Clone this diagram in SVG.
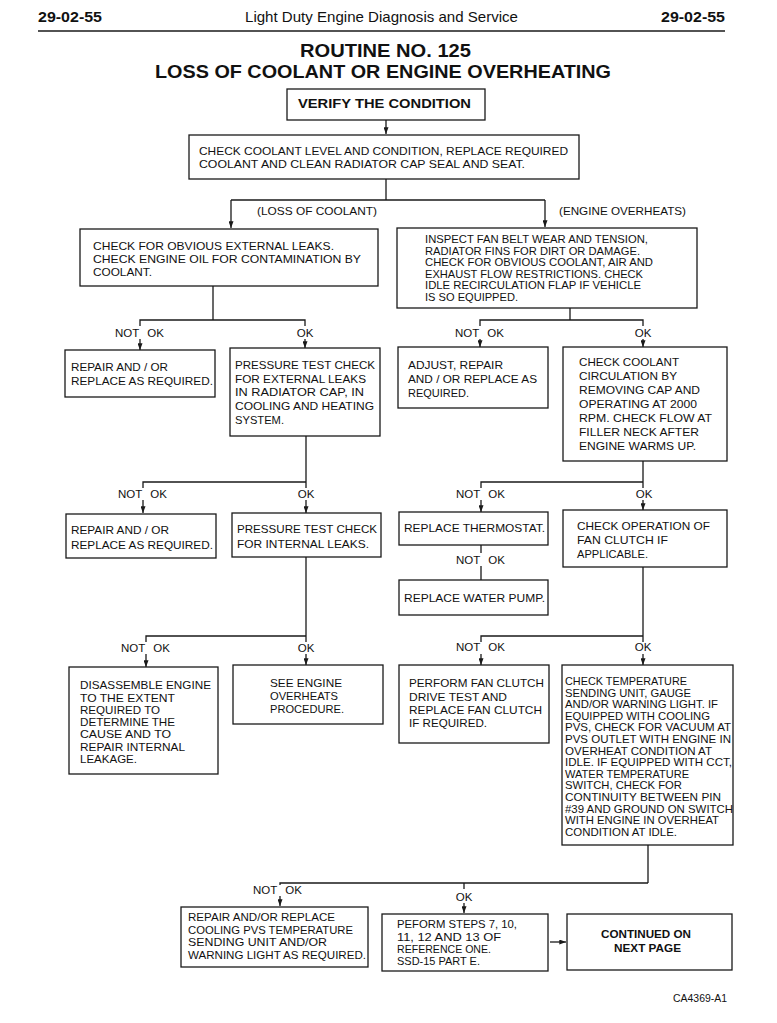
<svg xmlns="http://www.w3.org/2000/svg" width="777" height="1023" viewBox="0 0 777 1023">
<defs>
<style>
.bx{fill:#fff;stroke:#1a1a1a;stroke-width:1.3}
.t{font-family:"Liberation Sans",Arial,sans-serif;font-size:11px;fill:#111}
.s{font-family:"Liberation Sans",Arial,sans-serif;font-size:10.5px;fill:#111}
.lb{font-family:"Liberation Sans",Arial,sans-serif;font-size:11.5px;fill:#111;word-spacing:5px}
.b{font-family:"Liberation Sans",Arial,sans-serif;font-weight:bold;fill:#111}
.c{fill:none;stroke:#1a1a1a;stroke-width:1.3}
</style>
<marker id="ah" viewBox="0 0 8 6" refX="8" refY="3" markerWidth="8" markerHeight="5" markerUnits="userSpaceOnUse" orient="auto"><path d="M0,0 L8,3 L0,6 z" fill="#1a1a1a"/></marker>
</defs>
<rect width="777" height="1023" fill="#fff"/>
<g id="header">
<text class="b" x="38" y="22" font-size="14" textLength="64" lengthAdjust="spacingAndGlyphs">29-02-55</text>
<text class="t" x="245" y="22" style="font-size:15px" textLength="273" lengthAdjust="spacingAndGlyphs">Light Duty Engine Diagnosis and Service</text>
<text class="b" x="661" y="22" font-size="14" textLength="64" lengthAdjust="spacingAndGlyphs">29-02-55</text>
<line x1="38" y1="31" x2="725" y2="31" stroke="#1a1a1a" stroke-width="1.6"/>
<text class="b" x="300" y="57" font-size="18" textLength="171" lengthAdjust="spacingAndGlyphs">ROUTINE NO. 125</text>
<text class="b" x="155" y="78" font-size="18" textLength="456" lengthAdjust="spacingAndGlyphs">LOSS OF COOLANT OR ENGINE OVERHEATING</text>
</g>
<g id="connectors">
<path class="c" d="M386,120 V134" marker-end="url(#ah)"/>
<path class="c" d="M386,179 V200 M231,200 H545"/>
<path class="c" d="M231,200 V228" marker-end="url(#ah)"/>
<path class="c" d="M545,200 V227" marker-end="url(#ah)"/>
<path class="c" d="M213,286 V320 M140,326 V320 H305 V326 M570,308 V320 M480,326 V320 H643 V326"/>
<path class="c" d="M140,339 V350" marker-end="url(#ah)"/>
<path class="c" d="M305,339 V348" marker-end="url(#ah)"/>
<path class="c" d="M480,339 V347" marker-end="url(#ah)"/>
<path class="c" d="M643,339 V347" marker-end="url(#ah)"/>
<path class="c" d="M306,436 V482 M143,488 V482 H306 V488 M643,461 V482 M481,488 V482 H643 V488"/>
<path class="c" d="M143,500 V513" marker-end="url(#ah)"/>
<path class="c" d="M306,500 V513" marker-end="url(#ah)"/>
<path class="c" d="M481,500 V512" marker-end="url(#ah)"/>
<path class="c" d="M643,500 V510" marker-end="url(#ah)"/>
<path class="c" d="M481,545 V553 M481,566 V580"/>
<path class="c" d="M306,557 V636 M146,642 V636 H306 V642 M643,567 V636 M481,642 V636 H643 V642"/>
<path class="c" d="M146,654 V667" marker-end="url(#ah)"/>
<path class="c" d="M306,654 V665" marker-end="url(#ah)"/>
<path class="c" d="M481,654 V665" marker-end="url(#ah)"/>
<path class="c" d="M643,654 V665" marker-end="url(#ah)"/>
<path class="c" d="M648,845 V883 M280,885 V883 H648 M464,883 V889"/>
<path class="c" d="M280,896 V906" marker-end="url(#ah)"/>
<path class="c" d="M464,903 V913" marker-end="url(#ah)"/>
<path class="c" d="M550,942 H566" marker-end="url(#ah)"/>
<text class="t" x="257" y="215" textLength="120" lengthAdjust="spacingAndGlyphs">(LOSS OF COOLANT)</text>
<text class="t" x="559" y="215" textLength="127" lengthAdjust="spacingAndGlyphs">(ENGINE OVERHEATS)</text>
<text class="lb" x="115" y="337">NOT OK</text>
<text class="lb" x="305" y="337" text-anchor="middle">OK</text>
<text class="lb" x="455" y="337">NOT OK</text>
<text class="lb" x="643" y="337" text-anchor="middle">OK</text>
<text class="lb" x="118" y="498">NOT OK</text>
<text class="lb" x="306" y="498" text-anchor="middle">OK</text>
<text class="lb" x="456" y="498">NOT OK</text>
<text class="lb" x="644" y="498" text-anchor="middle">OK</text>
<text class="lb" x="456" y="564">NOT OK</text>
<text class="lb" x="121" y="652">NOT OK</text>
<text class="lb" x="306" y="652" text-anchor="middle">OK</text>
<text class="lb" x="456" y="651">NOT OK</text>
<text class="lb" x="643" y="651" text-anchor="middle">OK</text>
<text class="lb" x="253" y="894">NOT OK</text>
<text class="lb" x="464" y="901" text-anchor="middle">OK</text>
</g>
<g id="verify">
<rect class="bx" x="287" y="89" width="198" height="31"/>
<text class="b" x="298" y="108" font-size="12" textLength="173" lengthAdjust="spacingAndGlyphs">VERIFY THE CONDITION</text>
</g>
<g id="check-level">
<rect class="bx" x="189" y="135" width="390" height="44"/>
<text class="t" x="199" y="155" textLength="369" lengthAdjust="spacingAndGlyphs">CHECK COOLANT LEVEL AND CONDITION, REPLACE REQUIRED</text>
<text class="t" x="199" y="168" textLength="326" lengthAdjust="spacingAndGlyphs">COOLANT AND CLEAN RADIATOR CAP SEAL AND SEAT.</text>
</g>
<g id="check-leaks">
<rect class="bx" x="80" y="229" width="298" height="57"/>
<text class="t" x="93" y="250" textLength="241" lengthAdjust="spacingAndGlyphs">CHECK FOR OBVIOUS EXTERNAL LEAKS.</text>
<text class="t" x="93" y="263" textLength="268" lengthAdjust="spacingAndGlyphs">CHECK ENGINE OIL FOR CONTAMINATION BY</text>
<text class="t" x="93" y="276" textLength="59" lengthAdjust="spacingAndGlyphs">COOLANT.</text>
</g>
<g id="inspect-fan">
<rect class="bx" x="397" y="228" width="300" height="80"/>
<text class="t" x="425" y="243" textLength="223" lengthAdjust="spacingAndGlyphs">INSPECT FAN BELT WEAR AND TENSION,</text>
<text class="t" x="425" y="254.5" textLength="215" lengthAdjust="spacingAndGlyphs">RADIATOR FINS FOR DIRT OR DAMAGE.</text>
<text class="t" x="425" y="266" textLength="228" lengthAdjust="spacingAndGlyphs">CHECK FOR OBVIOUS COOLANT, AIR AND</text>
<text class="t" x="425" y="277.5" textLength="218" lengthAdjust="spacingAndGlyphs">EXHAUST FLOW RESTRICTIONS. CHECK</text>
<text class="t" x="425" y="289" textLength="216" lengthAdjust="spacingAndGlyphs">IDLE RECIRCULATION FLAP IF VEHICLE</text>
<text class="t" x="425" y="300.5" textLength="93" lengthAdjust="spacingAndGlyphs">IS SO EQUIPPED.</text>
</g>
<g id="repair-1">
<rect class="bx" x="65" y="350" width="150" height="47"/>
<text class="t" x="71" y="371" textLength="97" lengthAdjust="spacingAndGlyphs">REPAIR AND / OR</text>
<text class="t" x="71" y="385" textLength="142" lengthAdjust="spacingAndGlyphs">REPLACE AS REQUIRED.</text>
</g>
<g id="pressure-external">
<rect class="bx" x="230" y="348" width="150" height="88"/>
<text class="t" x="235" y="369" textLength="140" lengthAdjust="spacingAndGlyphs">PRESSURE TEST CHECK</text>
<text class="t" x="235" y="383" textLength="131" lengthAdjust="spacingAndGlyphs">FOR EXTERNAL LEAKS</text>
<text class="t" x="235" y="396" textLength="129" lengthAdjust="spacingAndGlyphs">IN RADIATOR CAP, IN</text>
<text class="t" x="235" y="410" textLength="139" lengthAdjust="spacingAndGlyphs">COOLING AND HEATING</text>
<text class="t" x="235" y="424" textLength="49" lengthAdjust="spacingAndGlyphs">SYSTEM.</text>
</g>
<g id="adjust-repair">
<rect class="bx" x="398" y="347" width="150" height="61"/>
<text class="t" x="408" y="369" textLength="95" lengthAdjust="spacingAndGlyphs">ADJUST, REPAIR</text>
<text class="t" x="408" y="383" textLength="129" lengthAdjust="spacingAndGlyphs">AND / OR REPLACE AS</text>
<text class="t" x="408" y="397" textLength="61" lengthAdjust="spacingAndGlyphs">REQUIRED.</text>
</g>
<g id="check-circulation">
<rect class="bx" x="563" y="347" width="164" height="114"/>
<text class="t" x="579" y="366" textLength="100" lengthAdjust="spacingAndGlyphs">CHECK COOLANT</text>
<text class="t" x="579" y="380" textLength="98" lengthAdjust="spacingAndGlyphs">CIRCULATION BY</text>
<text class="t" x="579" y="394" textLength="121" lengthAdjust="spacingAndGlyphs">REMOVING CAP AND</text>
<text class="t" x="579" y="408" textLength="118" lengthAdjust="spacingAndGlyphs">OPERATING AT 2000</text>
<text class="t" x="579" y="422" textLength="133" lengthAdjust="spacingAndGlyphs">RPM. CHECK FLOW AT</text>
<text class="t" x="579" y="436" textLength="120" lengthAdjust="spacingAndGlyphs">FILLER NECK AFTER</text>
<text class="t" x="579" y="450" textLength="117" lengthAdjust="spacingAndGlyphs">ENGINE WARMS UP.</text>
</g>
<g id="repair-2">
<rect class="bx" x="66" y="514" width="150" height="44"/>
<text class="t" x="71" y="534" textLength="98" lengthAdjust="spacingAndGlyphs">REPAIR AND / OR</text>
<text class="t" x="71" y="549" textLength="142" lengthAdjust="spacingAndGlyphs">REPLACE AS REQUIRED.</text>
</g>
<g id="pressure-internal">
<rect class="bx" x="232" y="513" width="149" height="44"/>
<text class="t" x="237" y="533" textLength="140" lengthAdjust="spacingAndGlyphs">PRESSURE TEST CHECK</text>
<text class="t" x="237" y="548" textLength="132" lengthAdjust="spacingAndGlyphs">FOR INTERNAL LEAKS.</text>
</g>
<g id="thermostat">
<rect class="bx" x="399" y="512" width="149" height="33"/>
<text class="t" x="404" y="532" textLength="141" lengthAdjust="spacingAndGlyphs">REPLACE THERMOSTAT.</text>
</g>
<g id="water-pump">
<rect class="bx" x="399" y="580" width="149" height="35"/>
<text class="t" x="404" y="602" textLength="141" lengthAdjust="spacingAndGlyphs">REPLACE WATER PUMP.</text>
</g>
<g id="fan-clutch-check">
<rect class="bx" x="563" y="510" width="164" height="57"/>
<text class="t" x="577" y="530" textLength="133" lengthAdjust="spacingAndGlyphs">CHECK OPERATION OF</text>
<text class="t" x="577" y="544" textLength="91" lengthAdjust="spacingAndGlyphs">FAN CLUTCH IF</text>
<text class="t" x="577" y="558" textLength="71" lengthAdjust="spacingAndGlyphs">APPLICABLE.</text>
</g>
<g id="disassemble">
<rect class="bx" x="69" y="667" width="149" height="107"/>
<text class="t" x="80" y="689" textLength="131" lengthAdjust="spacingAndGlyphs">DISASSEMBLE ENGINE</text>
<text class="t" x="80" y="702" textLength="95" lengthAdjust="spacingAndGlyphs">TO THE EXTENT</text>
<text class="t" x="80" y="714" textLength="80" lengthAdjust="spacingAndGlyphs">REQUIRED TO</text>
<text class="t" x="80" y="726" textLength="95" lengthAdjust="spacingAndGlyphs">DETERMINE THE</text>
<text class="t" x="80" y="738" textLength="91" lengthAdjust="spacingAndGlyphs">CAUSE AND TO</text>
<text class="t" x="80" y="751" textLength="105" lengthAdjust="spacingAndGlyphs">REPAIR INTERNAL</text>
<text class="t" x="80" y="763" textLength="57" lengthAdjust="spacingAndGlyphs">LEAKAGE.</text>
</g>
<g id="see-overheats">
<rect class="bx" x="233" y="665" width="150" height="59"/>
<text class="t" x="270" y="687" textLength="72" lengthAdjust="spacingAndGlyphs">SEE ENGINE</text>
<text class="t" x="270" y="700" textLength="68" lengthAdjust="spacingAndGlyphs">OVERHEATS</text>
<text class="t" x="270" y="713" textLength="74" lengthAdjust="spacingAndGlyphs">PROCEDURE.</text>
</g>
<g id="fan-clutch-test">
<rect class="bx" x="399" y="665" width="150" height="78"/>
<text class="t" x="409" y="687" textLength="135" lengthAdjust="spacingAndGlyphs">PERFORM FAN CLUTCH</text>
<text class="t" x="409" y="701" textLength="98" lengthAdjust="spacingAndGlyphs">DRIVE TEST AND</text>
<text class="t" x="409" y="714" textLength="133" lengthAdjust="spacingAndGlyphs">REPLACE FAN CLUTCH</text>
<text class="t" x="409" y="727" textLength="78" lengthAdjust="spacingAndGlyphs">IF REQUIRED.</text>
</g>
<g id="check-temperature">
<rect class="bx" x="562" y="665" width="171" height="180"/>
<text class="s" x="565" y="685" textLength="122" lengthAdjust="spacingAndGlyphs">CHECK TEMPERATURE</text>
<text class="s" x="565" y="696.6" textLength="126" lengthAdjust="spacingAndGlyphs">SENDING UNIT, GAUGE</text>
<text class="s" x="565" y="708.2" textLength="153" lengthAdjust="spacingAndGlyphs">AND/OR WARNING LIGHT. IF</text>
<text class="s" x="565" y="719.8" textLength="145" lengthAdjust="spacingAndGlyphs">EQUIPPED WITH COOLING</text>
<text class="s" x="565" y="731.4" textLength="166" lengthAdjust="spacingAndGlyphs">PVS, CHECK FOR VACUUM AT</text>
<text class="s" x="565" y="743" textLength="166" lengthAdjust="spacingAndGlyphs">PVS OUTLET WITH ENGINE IN</text>
<text class="s" x="565" y="754.6" textLength="147" lengthAdjust="spacingAndGlyphs">OVERHEAT CONDITION AT</text>
<text class="s" x="565" y="766.2" textLength="167" lengthAdjust="spacingAndGlyphs">IDLE. IF EQUIPPED WITH CCT,</text>
<text class="s" x="565" y="777.8" textLength="124" lengthAdjust="spacingAndGlyphs">WATER TEMPERATURE</text>
<text class="s" x="565" y="789.4" textLength="117" lengthAdjust="spacingAndGlyphs">SWITCH, CHECK FOR</text>
<text class="s" x="565" y="801" textLength="156" lengthAdjust="spacingAndGlyphs">CONTINUITY BETWEEN PIN</text>
<text class="s" x="565" y="812.6" textLength="168" lengthAdjust="spacingAndGlyphs">#39 AND GROUND ON SWITCH</text>
<text class="s" x="565" y="824.2" textLength="154" lengthAdjust="spacingAndGlyphs">WITH ENGINE IN OVERHEAT</text>
<text class="s" x="565" y="835.8" textLength="112" lengthAdjust="spacingAndGlyphs">CONDITION AT IDLE.</text>
</g>
<g id="repair-pvs">
<rect class="bx" x="181" y="907" width="187" height="60"/>
<text class="t" x="188" y="921" textLength="147" lengthAdjust="spacingAndGlyphs">REPAIR AND/OR REPLACE</text>
<text class="t" x="188" y="934" textLength="165" lengthAdjust="spacingAndGlyphs">COOLING PVS TEMPERATURE</text>
<text class="t" x="188" y="946" textLength="139" lengthAdjust="spacingAndGlyphs">SENDING UNIT  AND/OR</text>
<text class="t" x="188" y="959" textLength="178" lengthAdjust="spacingAndGlyphs">WARNING LIGHT AS REQUIRED.</text>
</g>
<g id="perform-steps">
<rect class="bx" x="382" y="914" width="166" height="57"/>
<text class="t" x="397" y="928" style="font-size:11.5px" textLength="120" lengthAdjust="spacingAndGlyphs">PEFORM STEPS 7, 10,</text>
<text class="t" x="397" y="941" style="font-size:11.5px" textLength="104" lengthAdjust="spacingAndGlyphs">11, 12 AND 13 OF</text>
<text class="t" x="397" y="953" style="font-size:11.5px" textLength="94" lengthAdjust="spacingAndGlyphs">REFERENCE ONE.</text>
<text class="t" x="397" y="965" style="font-size:11.5px" textLength="83" lengthAdjust="spacingAndGlyphs">SSD-15 PART E.</text>
</g>
<g id="continued">
<rect class="bx" x="567" y="914" width="165" height="56"/>
<text class="b" x="601" y="938" font-size="11" textLength="90" lengthAdjust="spacingAndGlyphs">CONTINUED ON</text>
<text class="b" x="614" y="952" font-size="11" textLength="67" lengthAdjust="spacingAndGlyphs">NEXT PAGE</text>
</g>
<text class="t" x="673" y="1002" textLength="54" lengthAdjust="spacingAndGlyphs">CA4369-A1</text>
</svg>
